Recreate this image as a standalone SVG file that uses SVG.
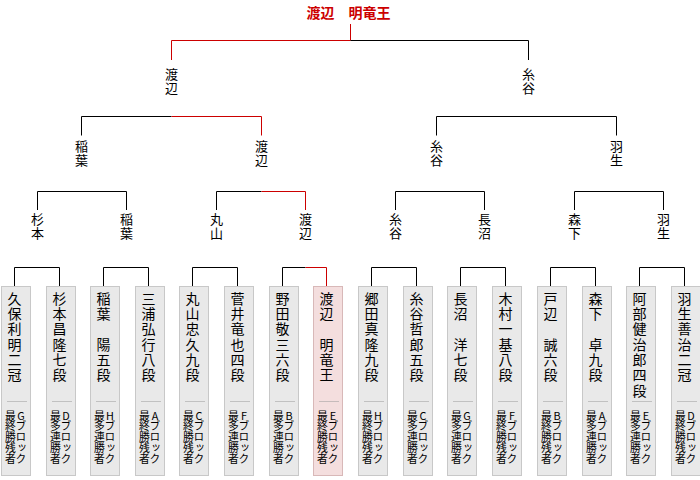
<svg xmlns="http://www.w3.org/2000/svg" width="700" height="480" viewBox="0 0 700 480">
<defs>
<style>
text{font-family:"Noto Sans CJK JP","Noto Sans CJK SC",sans-serif;fill:#000}
.v{writing-mode:vertical-rl;text-orientation:upright}
.lbl{font-size:13px;letter-spacing:1px}
.nm{font-size:14px;letter-spacing:1.3px}
.sm{font-size:10.8px}
.title{font-size:14px;font-weight:bold;fill:#cc0000}
.k{fill:none;stroke:#000;stroke-width:1}
.r{fill:none;stroke:#cc0000;stroke-width:1}
.box{fill:#e9e9e9;stroke:#c8c8c8;stroke-width:1}
.win{fill:#f4dede;stroke:#d8b8b8;stroke-width:1}
.dot{stroke:#999;stroke-width:1;stroke-dasharray:1 1}
</style>
</defs>
<rect width="700" height="480" fill="#fff"/>
<g id="connectors">
<path class="r" d="M350.5 24V40.5H171.5V60"/>
<path class="k" d="M350.5 40.5H528.5V60"/>
<path class="k" d="M171.5 116.5H81.5V135.5"/>
<path class="r" d="M171.5 116.5H261.5V135.5"/>
<path class="k" d="M436.5 135.5V116.5H616.5V135.5"/>
<path class="k" d="M37.5 210V191.5H126.5V210"/>
<path class="k" d="M261.5 191.5H216.5V210"/>
<path class="r" d="M261.5 191.5H305.5V210"/>
<path class="k" d="M395.5 210V191.5H484.5V210"/>
<path class="k" d="M574.5 210V191.5H663.5V210"/>
<path class="k" d="M14.5 286V267.5H59.5V286"/>
<path class="k" d="M103.5 286V267.5H148.5V286"/>
<path class="k" d="M192.5 286V267.5H237.5V286"/>
<path class="k" d="M305.5 267.5H282.5V286"/>
<path class="r" d="M305.5 267.5H326.5V286"/>
<path class="k" d="M371.5 286V267.5H416.5V286"/>
<path class="k" d="M460.5 286V267.5H505.5V286"/>
<path class="k" d="M550.5 286V267.5H595.5V286"/>
<path class="k" d="M639.5 286V267.5H684.5V286"/>
</g>
<g id="champion"><text class="title" x="348.5" y="18" text-anchor="middle">渡辺　明竜王</text></g>
<g id="final-l"><text class="v lbl" x="171.5" y="67.5">渡辺</text></g>
<g id="final-r"><text class="v lbl" x="528.5" y="67.5">糸谷</text></g>
<g id="semi-1"><text class="v lbl" x="81.5" y="139.5">稲葉</text></g>
<g id="semi-2"><text class="v lbl" x="261.5" y="139.5">渡辺</text></g>
<g id="semi-3"><text class="v lbl" x="436.5" y="139.5">糸谷</text></g>
<g id="semi-4"><text class="v lbl" x="616.5" y="139.5">羽生</text></g>
<g id="qf-1"><text class="v lbl" x="37.5" y="212.5">杉本</text></g>
<g id="qf-2"><text class="v lbl" x="126.5" y="212.5">稲葉</text></g>
<g id="qf-3"><text class="v lbl" x="216.5" y="212.5">丸山</text></g>
<g id="qf-4"><text class="v lbl" x="305.5" y="212.5">渡辺</text></g>
<g id="qf-5"><text class="v lbl" x="395.5" y="212.5">糸谷</text></g>
<g id="qf-6"><text class="v lbl" x="484.5" y="212.5">長沼</text></g>
<g id="qf-7"><text class="v lbl" x="574.5" y="212.5">森下</text></g>
<g id="qf-8"><text class="v lbl" x="663.5" y="212.5">羽生</text></g>

<g id="p1"><rect class="box" x="1.5" y="286.5" width="29" height="189"/><text class="v nm" x="14.5" y="291.5">久保利明二冠</text><line class="dot" x1="7.5" y1="401.5" x2="27.5" y2="401.5"/><text class="v sm" x="21" y="410">Gブロック</text><text class="v sm" x="10.5" y="410">最終勝残者</text></g>
<g id="p2"><rect class="box" x="46.5" y="286.5" width="29" height="189"/><text class="v nm" x="59.5" y="291.5">杉本昌隆七段</text><line class="dot" x1="52.5" y1="401.5" x2="72.5" y2="401.5"/><text class="v sm" x="66" y="410">Dブロック</text><text class="v sm" x="55.5" y="410">最多連勝者</text></g>
<g id="p3"><rect class="box" x="90.5" y="286.5" width="29" height="189"/><text class="v nm" x="103.5" y="291.5">稲葉　陽五段</text><line class="dot" x1="96.5" y1="401.5" x2="116.5" y2="401.5"/><text class="v sm" x="110" y="410">Hブロック</text><text class="v sm" x="99.5" y="410">最多連勝者</text></g>
<g id="p4"><rect class="box" x="135.5" y="286.5" width="29" height="189"/><text class="v nm" x="148.5" y="291.5">三浦弘行八段</text><line class="dot" x1="141.5" y1="401.5" x2="161.5" y2="401.5"/><text class="v sm" x="155" y="410">Aブロック</text><text class="v sm" x="144.5" y="410">最終勝残者</text></g>
<g id="p5"><rect class="box" x="179.5" y="286.5" width="29" height="189"/><text class="v nm" x="192.5" y="291.5">丸山忠久九段</text><line class="dot" x1="185.5" y1="401.5" x2="205.5" y2="401.5"/><text class="v sm" x="199" y="410">Cブロック</text><text class="v sm" x="188.5" y="410">最終勝残者</text></g>
<g id="p6"><rect class="box" x="224.5" y="286.5" width="29" height="189"/><text class="v nm" x="237.5" y="291.5">菅井竜也四段</text><line class="dot" x1="230.5" y1="401.5" x2="250.5" y2="401.5"/><text class="v sm" x="244" y="410">Fブロック</text><text class="v sm" x="233.5" y="410">最多連勝者</text></g>
<g id="p7"><rect class="box" x="269.5" y="286.5" width="29" height="189"/><text class="v nm" x="282.5" y="291.5">野田敬三六段</text><line class="dot" x1="275.5" y1="401.5" x2="295.5" y2="401.5"/><text class="v sm" x="289" y="410">Bブロック</text><text class="v sm" x="278.5" y="410">最多連勝者</text></g>
<g id="p8"><rect class="win" x="313.5" y="286.5" width="29" height="189"/><text class="v nm" x="326.5" y="291.5">渡辺　明竜王</text><line class="dot" x1="319.5" y1="401.5" x2="339.5" y2="401.5"/><text class="v sm" x="333" y="410">Eブロック</text><text class="v sm" x="322.5" y="410">最終勝残者</text></g>
<g id="p9"><rect class="box" x="358.5" y="286.5" width="29" height="189"/><text class="v nm" x="371.5" y="291.5">郷田真隆九段</text><line class="dot" x1="364.5" y1="401.5" x2="384.5" y2="401.5"/><text class="v sm" x="378" y="410">Hブロック</text><text class="v sm" x="367.5" y="410">最終勝残者</text></g>
<g id="p10"><rect class="box" x="403.5" y="286.5" width="29" height="189"/><text class="v nm" x="416.5" y="291.5">糸谷哲郎五段</text><line class="dot" x1="409.5" y1="401.5" x2="429.5" y2="401.5"/><text class="v sm" x="423" y="410">Cブロック</text><text class="v sm" x="412.5" y="410">最多連勝者</text></g>
<g id="p11"><rect class="box" x="447.5" y="286.5" width="29" height="189"/><text class="v nm" x="460.5" y="291.5">長沼　洋七段</text><line class="dot" x1="453.5" y1="401.5" x2="473.5" y2="401.5"/><text class="v sm" x="467" y="410">Gブロック</text><text class="v sm" x="456.5" y="410">最多連勝者</text></g>
<g id="p12"><rect class="box" x="492.5" y="286.5" width="29" height="189"/><text class="v nm" x="505.5" y="291.5">木村一基八段</text><line class="dot" x1="498.5" y1="401.5" x2="518.5" y2="401.5"/><text class="v sm" x="512" y="410">Fブロック</text><text class="v sm" x="501.5" y="410">最終勝残者</text></g>
<g id="p13"><rect class="box" x="537.5" y="286.5" width="29" height="189"/><text class="v nm" x="550.5" y="291.5">戸辺　誠六段</text><line class="dot" x1="543.5" y1="401.5" x2="563.5" y2="401.5"/><text class="v sm" x="557" y="410">Bブロック</text><text class="v sm" x="546.5" y="410">最終勝残者</text></g>
<g id="p14"><rect class="box" x="582.5" y="286.5" width="29" height="189"/><text class="v nm" x="595.5" y="291.5">森下　卓九段</text><line class="dot" x1="588.5" y1="401.5" x2="608.5" y2="401.5"/><text class="v sm" x="602" y="410">Aブロック</text><text class="v sm" x="591.5" y="410">最多連勝者</text></g>
<g id="p15"><rect class="box" x="626.5" y="286.5" width="29" height="189"/><text class="v nm" x="639.5" y="291.5">阿部健治郎四段</text><line class="dot" x1="632.5" y1="401.5" x2="652.5" y2="401.5"/><text class="v sm" x="646" y="410">Eブロック</text><text class="v sm" x="635.5" y="410">最多連勝者</text></g>
<g id="p16"><rect class="box" x="671.5" y="286.5" width="29" height="189"/><text class="v nm" x="684.5" y="291.5">羽生善治二冠</text><line class="dot" x1="677.5" y1="401.5" x2="697.5" y2="401.5"/><text class="v sm" x="691" y="410">Dブロック</text><text class="v sm" x="680.5" y="410">最終勝残者</text></g>
</svg>
